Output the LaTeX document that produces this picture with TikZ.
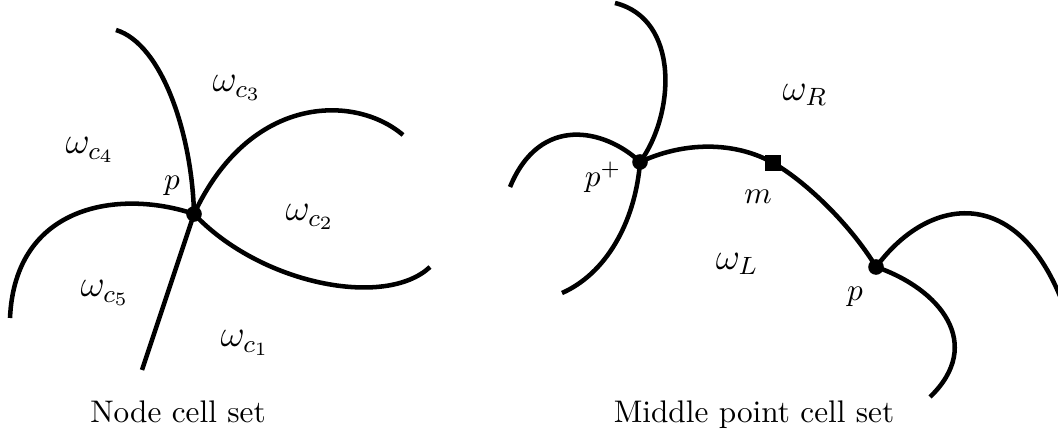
\documentclass[tikz,border=0pt]{standalone}
\usepackage{amsmath, amssymb}
\usepackage{tikz}

\begin{document}
\begin{tikzpicture}[scale=1.125,
    edge/.style={line width=1.45pt},
    dot/.style={circle, fill, inner sep=0pt, minimum size=5pt},
    midsq/.style={rectangle, fill, inner sep=0pt, minimum size=5pt},
    region/.style={font=\large}]
  \useasboundingbox (0,0) rectangle (10.58,4.34);
  % node cell set
  \node[dot] (pc) at (1.94,2.20) {};
  \draw[edge] (1.16,4.04) .. controls (1.62,3.90) and (1.92,3.00) .. (pc.center) -- (1.42,0.64);
  \draw[edge] (pc.center) .. controls (2.50,3.40) and (3.55,3.40) .. (4.03,2.99);
  \draw[edge] (pc.center) .. controls (2.60,1.50) and (3.85,1.25) .. (4.30,1.67);
  \draw[edge] (pc.center) .. controls (1.20,2.45) and (0.15,2.30) .. (0.10,1.16);
  \node at (1.72,2.48) {$p$};
  \node[region] at (2.37,3.46) {$\omega_{c_3}$};
  \node[region] at (0.90,2.84) {$\omega_{c_4}$};
  \node[region] at (3.10,2.17) {$\omega_{c_2}$};
  \node[region] at (1.05,1.41) {$\omega_{c_5}$};
  \node[region] at (2.45,0.91) {$\omega_{c_1}$};
  \node[anchor=base] at (1.78,0.11) {Node cell set};

  % middle point cell set
  \node[dot] (pplus) at (6.40,2.72) {};
  \node[midsq] (mid) at (7.73,2.71) {};
  \node[dot] (pr) at (8.76,1.67) {};
  \draw[edge] (6.15,4.31) .. controls (6.80,4.15) and (6.75,3.20) .. (pplus.center)
    .. controls (6.35,2.10) and (6.05,1.60) .. (5.62,1.41);
  \draw[edge] (pplus.center) .. controls (6.05,3.05) and (5.40,3.20) .. (5.10,2.47);
  \draw[edge] (pplus.center) .. controls (6.90,2.95) and (7.40,2.90) .. (mid.center)
    .. controls (8.05,2.53) and (8.50,2.10) .. (pr.center);
  \draw[edge] (pr.center) .. controls (9.30,2.40) and (10.20,2.50) .. (10.65,1.25);
  \draw[edge] (pr.center) .. controls (9.40,1.45) and (9.85,0.90) .. (9.30,0.37);
  \node at (6.03,2.57) {$p^+$};
  \node at (7.58,2.37) {$m$};
  \node at (8.55,1.37) {$p$};
  \node[region] at (8.05,3.39) {$\omega_R$};
  \node[region] at (7.37,1.70) {$\omega_L$};
  \node[anchor=base] at (7.54,0.11) {Middle point cell set};
\end{tikzpicture}
\end{document}
